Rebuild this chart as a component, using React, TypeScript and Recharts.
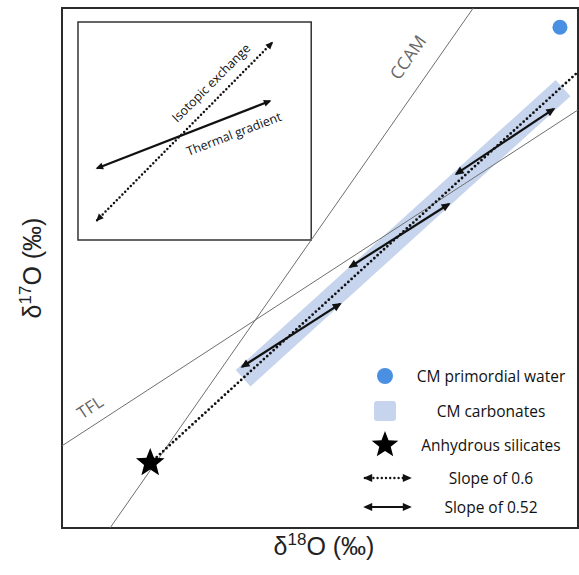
import { ComposedChart, Line, Scatter, XAxis, YAxis, ReferenceArea, ReferenceDot, Legend } from "recharts";

// schematic units, 0-100 on both axes
const ccamLine = [{ x: 9.3, y: 0 }, { x: 79.7, y: 100 }];
const tflLine = [{ x: 0, y: 15.8 }, { x: 100, y: 80.4 }];
const slope06Line = [{ x: 17.1, y: 12.5 }, { x: 100, y: 87.7 }];
const carbonateBand = [{ x: 35.1, y: 28.8 }, { x: 97.1, y: 84.6 }];
const slope052Segments = [
  [{ x: 34.9, y: 31.0 }, { x: 53.9, y: 43.1 }],
  [{ x: 55.8, y: 50.2 }, { x: 75.0, y: 62.3 }],
  [{ x: 76.4, y: 68.1 }, { x: 95.3, y: 80.6 }],
];
const primordialWater = [{ x: 96.5, y: 96.3 }];
const anhydrousSilicates = [{ x: 17.1, y: 12.5 }];

// inset sketch
const insetExchange = [{ x: 6.8, y: 59.2 }, { x: 40.7, y: 93.3 }];
const insetThermal = [{ x: 6.8, y: 69.2 }, { x: 40.3, y: 82.1 }];

const legendLabels = ["CM primordial water", "CM carbonates", "Anhydrous silicates", "Slope of 0.6", "Slope of 0.52"];

const FONT = "'Open Sans', sans-serif";
const BLUE = "#4a90e2";
const BAND = "#c6d5ed";

const starPoints = (cx: number, cy: number, R: number, r: number) => {
  const pts: string[] = [];
  for (let i = 0; i < 10; i++) {
    const rad = i % 2 === 0 ? R : r;
    const a = -Math.PI / 2 + (i * Math.PI) / 5;
    pts.push(`${cx + rad * Math.cos(a)},${cy + rad * Math.sin(a)}`);
  }
  return pts.join(" ");
};

const StarShape = (p: any) => <polygon points={starPoints(p.cx, p.cy, 15, 6.5)} fill="#000" />;

const rotatedText = (text: string, angle: number, size: number, color: string) => (p: any) => (
  <text
    x={p.cx}
    y={p.cy}
    transform={`rotate(${angle} ${p.cx} ${p.cy})`}
    textAnchor="middle"
    dominantBaseline="central"
    fontSize={size}
    fill={color}
    fontFamily={FONT}
  >
    {text}
  </text>
);

const LegendIcon = ({ i }: { i: number }) => {
  if (i === 0) return <circle cx={30} cy={14} r={8} fill={BLUE} />;
  if (i === 1) return <rect x={19} y={4} width={22} height={20} rx={3} fill={BAND} />;
  if (i === 2) return <polygon points={starPoints(30, 14, 14, 6)} fill="#000" />;
  return (
    <line
      x1={10}
      y1={14}
      x2={55}
      y2={14}
      stroke="#111"
      strokeWidth={i === 3 ? 2.4 : 2}
      strokeDasharray={i === 3 ? "0 4.2" : undefined}
      strokeLinecap={i === 3 ? "round" : "butt"}
      markerStart="url(#headSolid)"
      markerEnd="url(#headSolid)"
    />
  );
};

const rowHeights = [34, 35, 33, 33, 26];

const LegendBox = () => (
  <div style={{ fontFamily: FONT, fontSize: 15.5, color: "#111" }}>
    {legendLabels.map((label, i) => (
      <div key={label} style={{ display: "flex", alignItems: "center", height: rowHeights[i] }}>
        <svg width={60} height={28}>
          <LegendIcon i={i} />
        </svg>
        <div style={{ width: 152, textAlign: "center", whiteSpace: "nowrap" }}>{label}</div>
      </div>
    ))}
  </div>
);

export default function App() {
  return (
    <div style={{ position: "absolute", left: 0, top: 0, background: "#fff" }}>
      <svg width={0} height={0} style={{ position: "absolute" }}>
        <defs>
          <marker id="headSolid" viewBox="0 0 10 10" refX={8} refY={5} markerWidth={11} markerHeight={9}
            markerUnits="userSpaceOnUse" orient="auto-start-reverse">
            <path d="M0,0.5 L10,5 L0,9.5 Z" fill="#111" />
          </marker>
          <marker id="headSmall" viewBox="0 0 10 10" refX={8} refY={5} markerWidth={9} markerHeight={7.5}
            markerUnits="userSpaceOnUse" orient="auto-start-reverse">
            <path d="M0,0.5 L10,5 L0,9.5 Z" fill="#111" />
          </marker>
        </defs>
      </svg>
      <ComposedChart width={579} height={575} margin={{ top: 8, right: 1, bottom: 0, left: 0 }}>
        <XAxis
          type="number"
          dataKey="x"
          domain={[0, 100]}
          allowDataOverflow
          tick={false}
          tickLine={false}
          axisLine={false}
          height={47}
          label={{
            content: (p: any) => {
              const vb = p.viewBox;
              return (
                <text x={vb.x + vb.width / 2 + 4} y={vb.y + 27} textAnchor="middle" fontSize={25}
                  fontFamily="'Liberation Sans', Arial, sans-serif" fill="#222">
                  δ<tspan dy={-10} fontSize={17}>18</tspan><tspan dy={10}>O (‰)</tspan>
                </text>
              );
            },
          }}
        />
        <YAxis
          type="number"
          dataKey="y"
          domain={[0, 100]}
          allowDataOverflow
          tick={false}
          tickLine={false}
          axisLine={false}
          width={62}
          label={{
            content: (p: any) => {
              const vb = p.viewBox;
              const cx = 41;
              const cy = vb.y + vb.height / 2;
              return (
                <text x={cx} y={cy} transform={`rotate(-90 ${cx} ${cy})`} textAnchor="middle" fontSize={25}
                  fontFamily="'Liberation Sans', Arial, sans-serif" fill="#222">
                  δ<tspan dy={-10} fontSize={17}>17</tspan><tspan dy={10}>O (‰)</tspan>
                </text>
              );
            },
          }}
        />

        <ReferenceArea x1={0} x2={100} y1={0} y2={100} fill="none" stroke="#2b2b2b" strokeWidth={2} />
        <ReferenceArea x1={3.1} x2={48.3} y1={55.4} y2={97.3} fill="none" stroke="#333" strokeWidth={1.5} />

        <Line data={carbonateBand} dataKey="y" stroke={BAND} strokeWidth={22} strokeLinecap="butt"
          dot={false} activeDot={false} isAnimationActive={false} />
        <Line data={ccamLine} dataKey="y" stroke="#6f6f6f" strokeWidth={1} dot={false} activeDot={false} isAnimationActive={false} />
        <Line data={tflLine} dataKey="y" stroke="#6f6f6f" strokeWidth={1} dot={false} activeDot={false} isAnimationActive={false} />
        <Line data={slope06Line} dataKey="y" stroke="#111" strokeWidth={2.8} strokeDasharray="0 4.4" strokeLinecap="round"
          dot={false} activeDot={false} isAnimationActive={false} />
        {slope052Segments.map((seg, i) => (
          <Line key={i} data={seg} dataKey="y" stroke="#111" strokeWidth={2.2} dot={false} activeDot={false}
            markerStart="url(#headSolid)" markerEnd="url(#headSolid)" isAnimationActive={false} />
        ))}

        <Line data={insetExchange} dataKey="y" stroke="#111" strokeWidth={2.5} strokeDasharray="0 4" strokeLinecap="round"
          dot={false} activeDot={false} markerStart="url(#headSmall)" markerEnd="url(#headSmall)" isAnimationActive={false} />
        <Line data={insetThermal} dataKey="y" stroke="#111" strokeWidth={2.2} dot={false} activeDot={false}
          markerStart="url(#headSmall)" markerEnd="url(#headSmall)" isAnimationActive={false} />

        <Scatter data={primordialWater} dataKey="y" fill={BLUE} shape={(p: any) => <circle cx={p.cx} cy={p.cy} r={7.5} fill={BLUE} />}
          isAnimationActive={false} />
        <Scatter data={anhydrousSilicates} dataKey="y" shape={StarShape} isAnimationActive={false} />

        <ReferenceDot x={66.9} y={90.6} r={0} shape={rotatedText("CCAM", -55, 17.5, "#666")} />
        <ReferenceDot x={5.4} y={23.3} r={0} shape={rotatedText("TFL", -33, 17, "#666")} />
        <ReferenceDot x={28.9} y={85.6} r={0} shape={rotatedText("Isotopic exchange", -45, 12.5, "#111")} />
        <ReferenceDot x={33.3} y={75.8} r={0} shape={rotatedText("Thermal gradient", -21, 12.5, "#111")} />

        <Legend
          layout="vertical"
          align="center"
          verticalAlign="middle"
          content={() => <LegendBox />}
          wrapperStyle={{ left: 355, top: 359, width: 222, height: 161 }}
        />
      </ComposedChart>
    </div>
  );
}
